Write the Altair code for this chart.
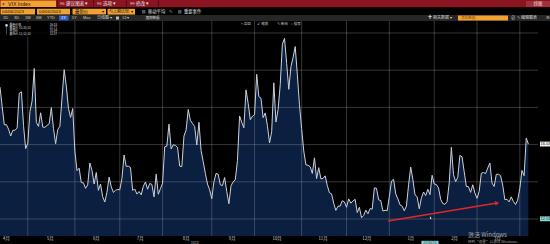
import altair as alt
import pandas as pd

# ---------------- data: VIX daily closes, one list per month ----------------
APR_2023 = [19.09, 18.06, 17.07, 17.07, 16.83, 16.46, 16.77, 16.77, 16.89, 18.76, 18.84, 17.03, 15.78]
MAY_2023 = [16.08, 17.78, 18.34, 20.09, 17.19, 16.98, 17.71, 16.94, 16.93, 17.03, 17.12, 17.99, 16.87,
            16.05, 16.81, 16.99, 18.53, 20.03, 19.14, 17.95, 17.46, 17.94]
JUN_2023 = [15.65, 14.60, 14.73, 13.96, 13.94, 13.65, 13.83, 15.01, 14.61, 13.88, 14.50, 13.54, 13.88,
            13.20, 12.91, 13.44, 14.25, 13.74, 13.43, 13.54, 13.59]
JUL_2023 = [13.57, 14.18, 15.44, 14.83, 14.84, 14.77, 13.54, 13.61, 13.34, 13.48, 13.30, 13.76, 13.99,
            13.60, 13.91, 13.86, 13.19, 14.41, 13.33, 13.63]
AUG_2023 = [13.93, 15.88, 15.92, 17.10, 15.77, 15.99, 15.96, 15.85, 14.84, 14.82, 16.46, 16.78, 17.89,
            17.30, 17.13, 16.97, 15.98, 17.20, 15.68, 15.08, 14.45, 13.88, 13.57]
SEP_2023 = [13.09, 14.00, 14.45, 14.40, 13.84, 13.80, 14.23, 13.48, 12.82, 13.79, 14.00, 14.11, 15.14,
            17.54, 17.20, 16.90, 18.94, 18.22, 17.34, 17.52]
OCT_2023 = [17.61, 19.78, 18.58, 18.49, 17.45, 17.70, 17.03, 16.09, 16.69, 19.32, 17.21, 17.88, 19.22,
            21.40, 21.71, 20.37, 18.97, 20.19, 20.68, 21.27, 19.75, 18.14]
NOV_2023 = [16.87, 15.66, 14.91, 14.89, 14.81, 14.45, 15.29, 14.17, 14.76, 14.16, 14.18, 14.32, 13.80,
            13.41, 13.35, 12.85, 12.46, 12.69, 12.69, 12.98, 12.92]
DEC_2023 = [12.63, 13.08, 12.85, 12.97, 13.06, 12.35, 12.63, 12.07, 12.19, 12.48, 12.28, 12.56, 12.53,
            13.67, 13.65, 13.03, 12.99, 12.43, 12.47, 12.45]
JAN_2024 = [13.20, 14.04, 14.13, 13.35, 13.08, 12.76, 12.69, 12.44, 12.70, 13.84, 14.79, 14.13, 13.30,
            13.19, 12.55, 13.14, 13.45, 13.26, 13.60, 13.31, 14.35]
FEB_2024 = [13.88, 13.85, 13.67, 13.06, 12.83, 12.79, 12.93, 13.94, 15.85, 14.38, 14.01, 14.24, 15.42,
            15.34, 14.54, 13.75, 13.74, 13.43, 13.84, 13.40]
MAR_2024 = [13.11, 13.49, 14.46, 14.50, 14.44, 14.74, 15.01, 13.93, 13.75, 14.40, 14.41, 14.33, 13.82,
            13.04, 13.06, 12.92, 13.19, 12.94, 12.78, 13.01]
APR_2024 = [13.65, 14.61, 14.33, 16.35, 16.03]

MONTH_LABELS = ["4月", "5月", "6月", "7月", "8月", "9月", "10月", "11月", "12月", "1月", "2月", "3月", "4月"]
MONTH_VALUES = [APR_2023, MAY_2023, JUN_2023, JUL_2023, AUG_2023, SEP_2023, OCT_2023,
                NOV_2023, DEC_2023, JAN_2024, FEB_2024, MAR_2024, APR_2024]
APR_2023_DAYS_BEFORE_WINDOW = 6          # trading days of April 2023 left of the window

Y_TICKS = [12, 14, 16, 18, 20, 22]
HIGH = ("10/20/23", 21.71)
LOW = ("12/12/23", 12.07)
CURSOR_VALUE = 12.01
CURSOR_DATE = "01/30/24"
ARROW_I = [181.4, 232.4]
ARROW_V = [11.89, 12.86]

# ---------------- derived tables ----------------
values, month_start, month_mid = [], [], []
for k, vals in enumerate(MONTH_VALUES):
    s = len(values)
    if k == 0:
        month_mid.append((s - APR_2023_DAYS_BEFORE_WINDOW + s + len(vals)) / 2 - 0.5)
    else:
        month_start.append(s)
        month_mid.append(s + len(vals) / 2 - 0.5)
    values.extend(vals)
LAST = values[-1]
AVG = sum(values) / len(values)

Y_BOTTOM = 11.086
main_df = pd.DataFrame({"i": list(range(len(values))), "v": values,
                        "b": [Y_BOTTOM] * len(values)})

FONT = "Noto Sans CJK SC"
NAVY = "#0b1f40"
LINE = "#ccd1da"
GRID = "#a0a0a0"
ORANGE = "#f3a231"
MAROON = "#8b1421"

XS = alt.Scale(domain=[0, 251.5], nice=False, zero=False)
YS = alt.Scale(domain=[Y_BOTTOM, 23.774], nice=False, zero=False)

fill = alt.Chart(main_df).mark_area(color=NAVY, opacity=1, interpolate="linear").encode(
    x=alt.X("i:Q", scale=XS, axis=alt.Axis(values=month_start, labels=False, grid=False, ticks=True,
                                           tickSize=2, tickColor="#7a8696", domainColor="#7a8696",
                                           title=None)),
    y=alt.Y("v:Q", scale=YS, stack=None,
            axis=alt.Axis(orient="right", values=Y_TICKS, format=".2f", grid=False, title=None,
                          labelFontSize=5, labelColor="#d8d8d8", labelPadding=1, tickSize=2,
                          tickColor="#d8d8d8", domainColor="#cfcfcf", labelFont="Liberation Sans")),
    y2="b:Q",
)

curve = alt.Chart(main_df).mark_line(color=LINE, strokeWidth=1, interpolate="linear").encode(
    x=alt.X("i:Q", scale=XS, axis=None), y=alt.Y("v:Q", scale=YS, axis=None))

grid_x = alt.Chart(pd.DataFrame({"i": month_start})).mark_rule(
    color=GRID, opacity=0.33, strokeWidth=1
).encode(x=alt.X("i:Q", scale=XS, axis=None), y=alt.value(21), y2=alt.value(236))

grid_y = alt.Chart(pd.DataFrame({"v": Y_TICKS})).mark_rule(
    color=GRID, opacity=0.33, strokeWidth=1
).encode(y=alt.Y("v:Q", scale=YS, axis=None), x=alt.value(0), x2=alt.value(538))

labels_df = pd.DataFrame({"i": month_mid[:-1], "t": MONTH_LABELS[:-1]})
month_labels = alt.Chart(labels_df).mark_text(
    fontSize=4.3, color="#d0d0d0", font=FONT, baseline="middle"
).encode(x=alt.X("i:Q", scale=XS, axis=None), y=alt.value(239.3), text="t:N")

year_label = alt.Chart(pd.DataFrame({"i": [91], "t": ["2023"]})).mark_text(
    fontSize=3.6, color="#bdbdbd", font=FONT, baseline="middle"
).encode(x=alt.X("i:Q", scale=XS, axis=None), y=alt.value(243), text="t:N")

arrow_df = pd.DataFrame({"i": ARROW_I, "v": ARROW_V})
arrow_line = alt.Chart(arrow_df).mark_line(color="#e3262b", strokeWidth=1.4).encode(
    x=alt.X("i:Q", scale=XS, axis=None), y=alt.Y("v:Q", scale=YS, axis=None))
arrow_head = alt.Chart(arrow_df.tail(1)).mark_point(
    shape="triangle-right", filled=True, color="#e3262b", size=22, angle=350.6, opacity=1
).encode(x=alt.X("i:Q", scale=XS, axis=None), y=alt.Y("v:Q", scale=YS, axis=None))

pointer = alt.Chart(pd.DataFrame({"i": [201.0], "v": [12.05]})).mark_point(
    shape="M0,-1L0,0.6L0.35,0.3L0.75,0.3Z", filled=True, color="#f0f0f0", size=18, opacity=1
).encode(x=alt.X("i:Q", scale=XS, axis=None), y=alt.Y("v:Q", scale=YS, axis=None))

def value_box(v, text, fill_col, tcol):
    df = pd.DataFrame({"v": [v], "lo": [v - 0.13], "hi": [v + 0.13], "t": [text]})
    box = alt.Chart(df).mark_rect(color=fill_col).encode(
        y=alt.Y("lo:Q", scale=YS, axis=None), y2="hi:Q", x=alt.value(540), x2=alt.value(553))
    lab = alt.Chart(df).mark_text(fontSize=4.1, color=tcol, align="left", baseline="middle",
                                  font="Liberation Sans").encode(
        y=alt.Y("v:Q", scale=YS, axis=None), x=alt.value(540.5), text="t:N")
    return [box, lab]

date_df = pd.DataFrame({"a": [197.0], "b": [205.0], "m": [201.0], "t": [CURSOR_DATE]})
date_box = alt.Chart(date_df).mark_rect(color="#8fdada").encode(
    x=alt.X("a:Q", scale=XS, axis=None), x2="b:Q", y=alt.value(240.8), y2=alt.value(245))
date_txt = alt.Chart(date_df).mark_text(fontSize=3.4, color="#10302f", baseline="middle",
                                        font="Liberation Sans").encode(
    x=alt.X("m:Q", scale=XS, axis=None), y=alt.value(243), text="t:N")

# ---------------- terminal chrome ----------------
dummy = alt.Chart(pd.DataFrame({"d": [0]}))

def box(x1, x2, y1, y2, color, opacity=1.0):
    return dummy.mark_rect(color=color, opacity=opacity).encode(
        x=alt.value(x1), x2=alt.value(x2), y=alt.value(y1), y2=alt.value(y2))

def txt(s, x, y, size=4.6, color="#e6e6e6", align="left", font=FONT):
    return dummy.mark_text(text=s, align=align, baseline="middle", fontSize=size,
                           color=color, font=font).encode(x=alt.value(x), y=alt.value(y))

chrome = [
    box(0, 552, 0, 7.6, MAROON),
    box(0.5, 56, 0.6, 7.0, ORANGE),
    txt("◂", 2, 3.8, 4, "#202020"),
    txt("VIX Index", 8, 3.9, 5.2, "#151515", font="Liberation Sans"),
    box(57, 58, 0, 7.6, "#5a0c14"), box(93, 94, 0, 7.6, "#5a0c14"),
    box(126, 127, 0, 7.6, "#5a0c14"), box(158, 159, 0, 7.6, "#5a0c14"),
    txt("96", 60, 3.9, 4.2, "#f0c0c0"), txt("建议图表 ▾", 66, 3.9, 4.6),
    txt("98", 97, 3.9, 4.2, "#f0c0c0"), txt("选项 ▾", 103, 3.9, 4.6),
    txt("99", 130, 3.9, 4.2, "#f0c0c0"), txt("修改 ▾", 136, 3.9, 4.6),
    box(526, 550, 1, 7, "#a0303b"), txt("线图", 538, 3.9, 4.4, "#f2d0d0", "center"),
    # row 2
    box(0, 552, 7.6, 15, "#000000"),
    box(0.5, 35, 8.8, 14.6, ORANGE), txt("04/06/2023", 2, 11.7, 4.4, "#151515", font="Liberation Sans"),
    box(37, 70, 8.8, 14.6, ORANGE), txt("04/05/2024", 39, 11.7, 4.4, "#151515", font="Liberation Sans"),
    box(72.5, 106, 8.8, 14.6, ORANGE), txt("最新价", 75, 11.7, 4.4, "#151515"),
    txt("▾", 102, 11.7, 4, "#151515"),
    box(107.5, 135, 8.8, 14.6, ORANGE), txt("与上期比较", 109, 11.7, 4.0, "#151515"),
    txt("▾", 131, 11.7, 4, "#151515"),
    box(142, 145.5, 10, 13.5, "#555555"), txt("移动平均", 148, 11.7, 4.3, "#e0e0e0"),
    txt("✎", 169, 11.7, 4.3, "#e0e0e0"),
    box(178, 181.5, 10, 13.5, "#555555"), txt("重要事件", 184, 11.7, 4.3, "#e0e0e0"),
    # row 3
    box(0, 552, 15, 21, "#262626"),
    txt("1D", 3, 18, 4.0, "#d0d0d0", font="Liberation Sans"),
    txt("3D", 14, 18, 4.0, "#d0d0d0", font="Liberation Sans"),
    txt("1M", 25, 18, 4.0, "#d0d0d0", font="Liberation Sans"),
    txt("6M", 36, 18, 4.0, "#d0d0d0", font="Liberation Sans"),
    txt("YTD", 47, 18, 4.0, "#d0d0d0", font="Liberation Sans"),
    box(59, 68.5, 15.6, 20.4, "#2f5fd0"),
    txt("1Y", 61, 18, 4.0, "#ffffff", font="Liberation Sans"),
    txt("5Y", 72, 18, 4.0, "#d0d0d0", font="Liberation Sans"),
    txt("Max", 83, 18, 4.0, "#d0d0d0", font="Liberation Sans"),
    txt("日线图 ▾", 97, 18, 4.0, "#d0d0d0"),
    box(116, 119, 16.5, 19.5, "#bcbcbc"), txt("12 ▾", 122, 18, 4.0, "#d0d0d0"),
    box(145, 159, 15.8, 20.2, "#3a3a3a"), txt("跟踪数据", 146, 18, 3.4, "#d0d0d0"),
    txt("✚ 相关数据 ▾", 428, 18, 4.0, "#d8d8d8"),
    box(458, 508, 15.6, 20.6, ORANGE), txt("添加数据", 461, 18, 3.6, "#7a4a10"),
    txt("⊘", 511, 18, 4.2, "#d8d8d8"), txt("✎ 编辑图表", 517, 18, 4.0, "#d8d8d8"),
    txt("⚙", 546, 18, 4.4, "#d8d8d8"),
    # small tool buttons inside chart
    txt("+ 返回", 241, 24.2, 3.5, "#c8c8c8"), txt("↙ 缩放", 257, 24.2, 3.5, "#c8c8c8"),
    txt("✎ 新闻", 277, 24.2, 3.5, "#c8c8c8"), txt("⌕ 搜索", 291, 24.2, 3.5, "#c8c8c8"),
    # legend
    box(0.5, 58, 22, 37, "#000000", 0.85),
    box(5.4, 7.6, 24.3, 26.5, "#f2f2f2"),
    txt("最新价格", 9.5, 25.4, 2.9, "#dcdcdc"), txt(f"{LAST:.2f}", 57, 25.4, 2.9, "#dcdcdc", "right"),
    txt("最高价 " + HIGH[0], 9.5, 28.4, 2.9, "#dcdcdc"),
    txt(f"{HIGH[1]:.2f}", 57, 28.4, 2.9, "#dcdcdc", "right"),
    txt("平均价", 9.5, 31.4, 2.9, "#dcdcdc"), txt(f"{AVG:.2f}", 57, 31.4, 2.9, "#dcdcdc", "right"),
    txt("最低价 " + LOW[0], 9.5, 34.4, 2.9, "#dcdcdc"),
    txt(f"{LOW[1]:.2f}", 57, 34.4, 2.9, "#dcdcdc", "right"),
    box(6.2, 6.7, 27, 34.6, "#8a8a8a"),
    # windows watermark
    txt("激活 Windows", 468, 234.8, 6.0, "#a8a8a8"),
    txt("转到“设置”以激活 Windows。", 468, 242.2, 3.6, "#a0a0a0"),
]

layers = [fill, grid_x, grid_y, curve, arrow_line, arrow_head, pointer]
layers += value_box(LAST, f"{LAST:.2f}", "#f2f2f2", "#101010")
layers += value_box(CURSOR_VALUE, f"{CURSOR_VALUE:.2f}", "#8fdada", "#10302f")
layers += [month_labels, year_label, date_box, date_txt] + chrome

chart = alt.layer(*layers).properties(
    width=538, height=236,
    padding={"left": 0, "top": 0, "right": 12, "bottom": 8},
    autosize=alt.AutoSizeParams(type="none"),
    background="#000000",
).configure_view(stroke=None)

chart.save("out.html", embed_options={"renderer": "svg", "actions": False})
